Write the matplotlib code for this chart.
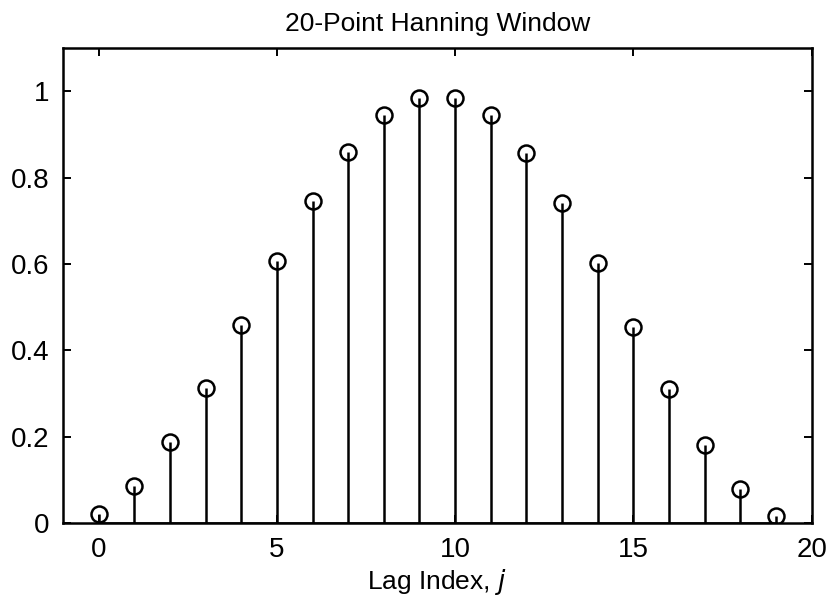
import matplotlib

matplotlib.use("Agg")

import matplotlib.pyplot as plt
import numpy as np

# Hanning window weights at each lag
lags = np.arange(20)
weights = [0.022, 0.086, 0.188, 0.314, 0.459, 0.607, 0.745, 0.860, 0.944, 0.985,
           0.985, 0.944, 0.858, 0.741, 0.603, 0.455, 0.310, 0.181, 0.080, 0.016]
x_ticks = [0, 5, 10, 15, 20]
y_ticks = [0, 0.2, 0.4, 0.6, 0.8, 1]
y_tick_labels = ["0", "0.2", "0.4", "0.6", "0.8", "1"]

plt.rcParams["font.family"] = ["Liberation Sans", "DejaVu Sans"]

fig = plt.figure(figsize=(8.29, 6.0), dpi=100)
ax = fig.add_axes([0.076, 0.128, 0.903, 0.792])

markerline, stemlines, baseline = ax.stem(lags, weights, linefmt="k-", markerfmt="ko", basefmt="k-")
markerline.set_markerfacecolor("none")
markerline.set_markersize(11.5)
markerline.set_markeredgewidth(1.8)
stemlines.set_linewidth(1.8)
baseline.set_linewidth(1.8)

ax.set_xlim(-1, 20)
ax.set_ylim(0, 1.1)
ax.set_xticks(x_ticks)
ax.set_yticks(y_ticks)
ax.set_yticklabels(y_tick_labels)
ax.tick_params(direction="in", top=True, right=True, length=6, width=1.4, labelsize=20, pad=10)
for spine in ax.spines.values():
    spine.set_linewidth(1.8)

ax.set_title("20-Point Hanning Window", fontsize=19, pad=12)
ax.set_xlabel("Lag Index, $j$", fontsize=19, labelpad=3)

fig.savefig("out.png", dpi=100)
